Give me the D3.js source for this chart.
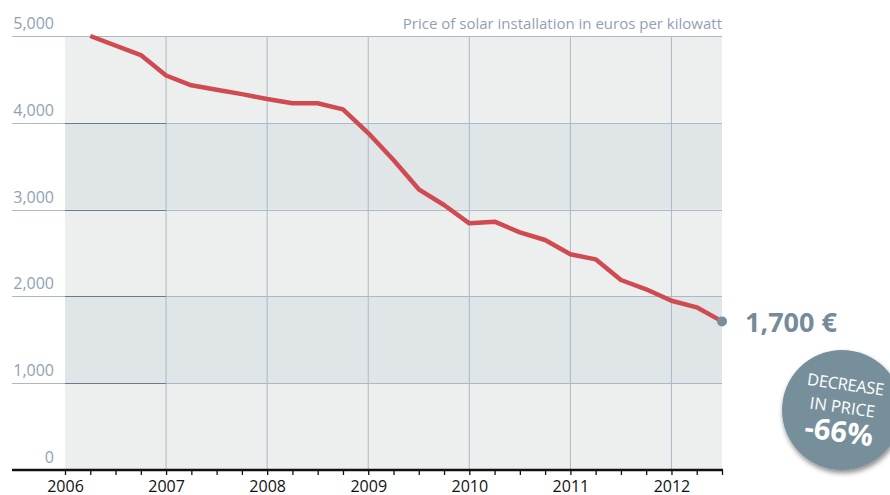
<!DOCTYPE html>
<html>
<head>
<meta charset="utf-8">
<script src="https://cdn.jsdelivr.net/npm/d3@7"></script>
<style>
	body { margin: 0; background: #fff; }
	svg { display: block; font-family: 'Open Sans', sans-serif; }
</style>
</head>
<body>
<script>
// data
var quarters = [2006.25, 2006.75, 2007, 2007.25, 2007.5, 2007.75, 2008, 2008.25, 2008.5, 2008.75,
	2009, 2009.25, 2009.5, 2009.75, 2010, 2010.25, 2010.5, 2010.75, 2011, 2011.25, 2011.5, 2011.75,
	2012, 2012.25, 2012.5];
var prices = [5000, 4780, 4545, 4432, 4380, 4330, 4274, 4225, 4225, 4155,
	3882, 3571, 3234, 3053, 2842, 2861, 2738, 2650, 2485, 2427, 2189, 2082,
	1950, 1874, 1712];
var yearTicks = [2006, 2007, 2008, 2009, 2010, 2011, 2012];
var priceTicks = [0, 1000, 2000, 3000, 4000, 5000];
var title = 'Price of solar installation in euros per kilowatt';
var endLabel = '1,700 €';
var badgeLines = ['DECREASE', 'IN PRICE', '-66%'];

var dataset = quarters.map(function (q, i) { return { t: q, price: prices[i] }; });

var width = 890, height = 495;
var svg = d3.select('body').append('svg')
	.attr('width', width)
	.attr('height', height);

var x = d3.scaleLinear().domain([2006, 2012.5]).range([65, 722]);
var y = d3.scaleLinear().domain([0, 5000]).range([470, 36]);

// bands
svg.selectAll('rect.band')
	.data(d3.range(0, 5000, 1000)).enter()
	.append('rect')
	.attr('class', 'band')
	.attr('x', x(2006))
	.attr('width', x(2012.5) - x(2006))
	.attr('y', function (d) { return y(d + 1000); })
	.attr('height', function (d) { return y(d) - y(d + 1000); })
	.attr('fill', function (d) { return (d / 1000) % 2 ? '#e0e5e8' : '#edefef'; });

// vertical grid
svg.selectAll('line.vgrid')
	.data(yearTicks.slice(1)).enter()
	.append('line')
	.attr('x1', function (d) { return x(d); })
	.attr('x2', function (d) { return x(d); })
	.attr('y1', y(5000))
	.attr('y2', y(0))
	.attr('stroke', '#a9b9c7')
	.attr('stroke-width', 1);

// horizontal grid
var hgrid = priceTicks.filter(function (d) { return d > 0; });
svg.selectAll('line.hgrid')
	.data(hgrid).enter()
	.append('line')
	.attr('x1', 12)
	.attr('x2', x(2012.5))
	.attr('y1', function (d) { return Math.round(y(d)) + 0.5; })
	.attr('y2', function (d) { return Math.round(y(d)) + 0.5; })
	.attr('stroke', '#a9b9c7')
	.attr('stroke-width', 1);

svg.selectAll('line.hdark')
	.data(hgrid.filter(function (d) { return d < 5000; })).enter()
	.append('line')
	.attr('x1', x(2006))
	.attr('x2', x(2007))
	.attr('y1', function (d) { return Math.round(y(d)) + 0.5; })
	.attr('y2', function (d) { return Math.round(y(d)) + 0.5; })
	.attr('stroke', '#687b89')
	.attr('stroke-width', 1);

// y labels
svg.selectAll('text.ylab')
	.data(priceTicks).enter()
	.append('text')
	.attr('x', 54)
	.attr('y', function (d) { return y(d) - 7; })
	.attr('text-anchor', 'end')
	.attr('fill', '#8fa2b4')
	.attr('font-size', '16px')
	.text(function (d) { return d3.format(',')(d); });

// title
svg.append('text')
	.attr('x', x(2012.5))
	.attr('y', 29)
	.attr('text-anchor', 'end')
	.attr('fill', '#8fa2b4')
	.attr('font-size', '15px')
	.text(title);

// x axis
var x_axis = d3.axisBottom(x)
	.tickValues(d3.range(2006, 2012.51, 0.25))
	.tickSize(5)
	.tickFormat(function (d) { return yearTicks.indexOf(d) >= 0 ? d : ''; });

var gx = svg.append('g')
	.attr('transform', 'translate(0,' + y(0) + ')')
	.call(x_axis);
gx.select('.domain').remove();
gx.selectAll('.tick line').attr('stroke', '#111').attr('stroke-width', 1.3);
gx.selectAll('.tick text')
	.attr('y', 11)
	.attr('font-size', '16px')
	.attr('font-family', "'Open Sans', sans-serif")
	.attr('fill', '#111');
gx.append('line')
	.attr('x1', 12)
	.attr('x2', x(2012.5) + 1)
	.attr('stroke', '#111')
	.attr('stroke-width', 2.5);

// price line
var line = d3.line()
	.x(function (d) { return x(d.t); })
	.y(function (d) { return y(d.price); });

svg.append('path')
	.datum(dataset)
	.attr('d', line)
	.attr('fill', 'none')
	.attr('stroke', '#cf4a51')
	.attr('stroke-width', 4.5)
	.attr('stroke-linejoin', 'round');

var last = dataset[dataset.length - 1];
svg.append('circle')
	.attr('cx', x(last.t))
	.attr('cy', y(last.price))
	.attr('r', 5)
	.attr('fill', '#778e9b');

svg.append('text')
	.attr('x', x(last.t) + 23)
	.attr('y', y(last.price) + 11)
	.attr('fill', '#768b99')
	.attr('font-size', '27px')
	.attr('font-weight', 'bold')
	.text(endLabel);

// badge
var defs = svg.append('defs');
var shadow = defs.append('filter').attr('id', 'shadow')
	.attr('x', '-30%').attr('y', '-30%').attr('width', '160%').attr('height', '160%');
shadow.append('feDropShadow')
	.attr('dx', 1).attr('dy', 3).attr('stdDeviation', 2.5)
	.attr('flood-color', '#000').attr('flood-opacity', 0.45);

var badge = svg.append('g').attr('transform', 'translate(842,410)');
badge.append('circle')
	.attr('r', 60)
	.attr('fill', '#778f9b')
	.attr('filter', 'url(#shadow)');

var bt = badge.append('g').attr('transform', 'rotate(8)');
bt.append('text').attr('y', -20).attr('font-size', '16.5px').attr('letter-spacing', '-0.3px').text(badgeLines[0]);
bt.append('text').attr('y', 3).attr('font-size', '16.5px').text(badgeLines[1]);
bt.append('text').attr('y', 32).attr('font-size', '29px').attr('font-weight', 'bold').text(badgeLines[2]);
bt.selectAll('text')
	.attr('text-anchor', 'middle')
	.attr('fill', '#fff');
</script>
</body>
</html>
